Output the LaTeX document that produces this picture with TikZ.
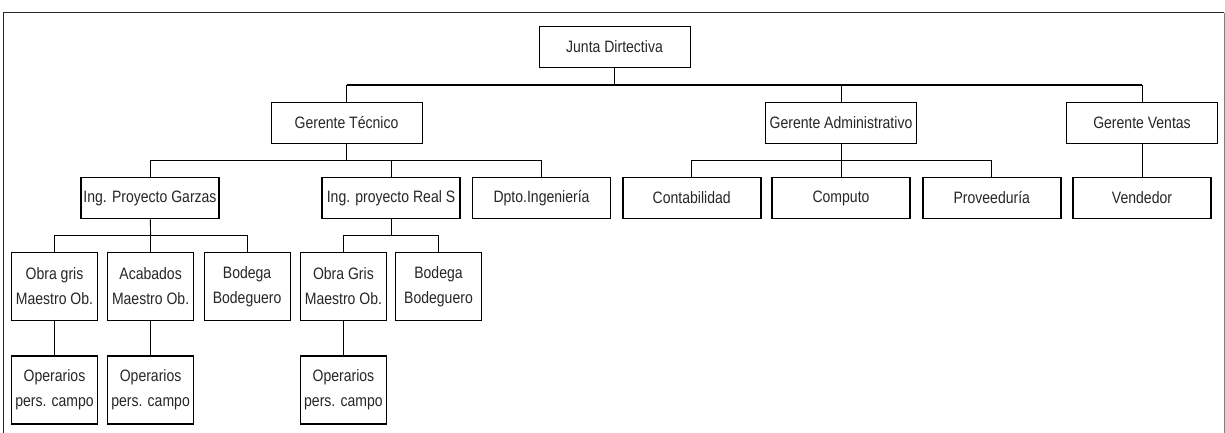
\documentclass[tikz,border=0pt]{standalone}
\usepackage{fontspec}
\setmainfont{Liberation Sans}[FakeStretch=0.85]
\begin{document}
\begin{tikzpicture}[x=1pt,y=-1pt,
    every node/.style={draw,inner sep=0pt,align=center,text=black!85,
      font=\fontsize{16.5}{25}\selectfont},
    jefe/.style={line width=0.8pt,minimum width=151pt,minimum height=41pt},
    depto/.style={line width=1.8pt,minimum width=138pt,minimum height=41pt},
    seccion/.style={line width=1.2pt,minimum width=86pt,minimum height=68pt},
    linea/.style={line width=0.9pt}]
  \useasboundingbox (0,0) rectangle (1225,433);
  \draw[line width=1pt,black!85] (3.5,433) -- (3.5,13) -- (1224,13);
  \draw[line width=1pt,gray] (1224,13) -- (1224,433);
  \draw
    (614.5,47) node[jefe] (junta){Junta Dirtectiva}
    (346.5,122.5) node[jefe] (gtec){Gerente Técnico}
    (841,122.5) node[jefe] (gadm){Gerente Administrativo}
    (1142,122.5) node[jefe] (gven){Gerente Ventas}
    (150,198) node[depto] (garzas){Ing. Proyecto Garzas}
    (391,198) node[depto] (reals){Ing. proyecto Real S}
    (541.5,198) node[depto] (dpto){Dpto.Ingeniería}
    (691.7,198) node[depto] (conta){Contabilidad}
    (841,198) node[depto] (compu){Computo}
    (991.8,198) node[depto] (prove){Proveeduría}
    (1142,198) node[depto] (vend){Vendedor}
    (54.5,286.5) node[seccion] (obra1){Obra gris\\Maestro Ob.}
    (150.6,286.5) node[seccion] (acab){Acabados\\Maestro Ob.}
    (247.1,286.5) node[seccion] (bod1){Bodega\\Bodeguero}
    (343.4,286.5) node[seccion] (obra2){Obra Gris\\Maestro Ob.}
    (438.5,286.5) node[seccion] (bod2){Bodega\\Bodeguero}
    (54.5,390) node[seccion] (oper1){Operarios\\pers. campo}
    (150.6,390) node[seccion] (oper2){Operarios\\pers. campo}
    (343.4,390) node[seccion] (oper3){Operarios\\pers. campo};
  \coordinate (b0) at (614.5,85);
  \coordinate (b1) at (346.5,160.5);
  \coordinate (b2) at (841,160);
  \coordinate (b3) at (150.6,235.5);
  \coordinate (b4) at (391,235.5);
  \begin{scope}[linea]
    \draw (junta) -- (b0);
    \draw[line width=2.2pt] (gtec |- b0) -- (gven |- b0);
    \draw (b0) -| (gtec);
    \draw (b0) -| (gadm);
    \draw (b0) -| (gven);
    \draw (gtec) -- (b1);
    \draw (b1) -| (garzas);
    \draw (b1) -| (reals);
    \draw (b1) -| (dpto);
    \draw (gadm) -- (b2);
    \draw (b2) -| (conta);
    \draw (b2) -- (compu);
    \draw (b2) -| (prove);
    \draw (gven) -- (vend);
    \draw (garzas) -- (b3);
    \draw (b3) -| (obra1);
    \draw (b3) -- (acab);
    \draw (b3) -| (bod1);
    \draw (reals) -- (b4);
    \draw (b4) -| (obra2);
    \draw (b4) -| (bod2);
    \draw (obra1) -- (oper1);
    \draw (acab) -- (oper2);
    \draw (obra2) -- (oper3);
  \end{scope}
\end{tikzpicture}
\end{document}
